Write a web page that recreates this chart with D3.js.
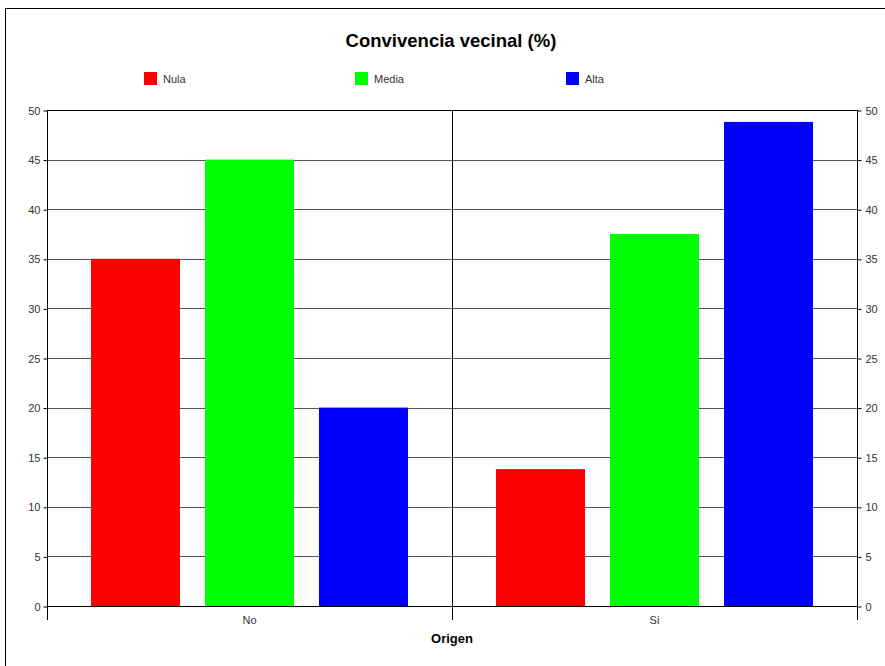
<!DOCTYPE html>
<html>
<head>
<meta charset="utf-8">
<script src="https://cdn.jsdelivr.net/npm/d3@7"></script>
<style>
  body { margin: 0; background: #fff; }
  svg { display: block; font-family: "Liberation Sans", Arial, sans-serif; }
</style>
</head>
<body>
<div id="chart"></div>
<script>
const categories = ["No", "Si"];
const seriesNames = ["Nula", "Media", "Alta"];
const seriesColors = ["#ff0000", "#00ff00", "#0000ff"];
const valuesNula = [35, 13.8];
const valuesMedia = [45, 37.5];
const valuesAlta = [20, 48.8];
const yTicks = [0, 5, 10, 15, 20, 25, 30, 35, 40, 45, 50];

const W = 885, H = 666;
const plot = { left: 47, right: 857, top: 110, bottom: 606 };

const svg = d3.select("#chart").append("svg")
  .attr("width", W).attr("height", H);

// outer frame
svg.append("rect")
  .attr("x", 5.5).attr("y", 8.5)
  .attr("width", W + 10).attr("height", H + 10)
  .attr("fill", "none").attr("stroke", "#000");

const x0 = d3.scaleBand()
  .domain(categories)
  .range([plot.left, plot.right])
  .paddingInner(0).paddingOuter(0);

const x1 = d3.scaleBand()
  .domain(seriesNames)
  .range([0, x0.bandwidth()])
  .paddingInner(0.219)
  .paddingOuter(0.386);

const y = d3.scaleLinear().domain([0, 50]).range([plot.bottom, plot.top]);

// gridlines
svg.append("g").selectAll("line")
  .data(yTicks.filter(t => t > 0))
  .join("line")
  .attr("x1", plot.left).attr("x2", plot.right)
  .attr("y1", d => Math.round(y(d)) + 0.5).attr("y2", d => Math.round(y(d)) + 0.5)
  .attr("stroke", d => d === 50 ? "#000" : "#555")
  .attr("stroke-width", 1);

// bars
const rows = categories.map((c, i) => ({
  cat: c,
  vals: [valuesNula[i], valuesMedia[i], valuesAlta[i]]
}));

const groups = svg.append("g").selectAll("g")
  .data(rows)
  .join("g")
  .attr("transform", d => `translate(${x0(d.cat)},0)`);

groups.selectAll("rect")
  .data(d => d.vals.map((v, j) => ({ name: seriesNames[j], v, color: seriesColors[j] })))
  .join("rect")
  .attr("x", d => x1(d.name))
  .attr("width", x1.bandwidth())
  .attr("y", d => y(d.v))
  .attr("height", d => y(0) - y(d.v))
  .attr("fill", d => d.color);

// vertical separators / category ticks
svg.append("g").selectAll("line")
  .data([plot.left, x0("Si"), plot.right])
  .join("line")
  .attr("x1", d => Math.round(d) + 0.5).attr("x2", d => Math.round(d) + 0.5)
  .attr("y1", plot.top).attr("y2", 620)
  .attr("stroke", "#000");

// left axis
const leftAxis = svg.append("g")
  .attr("transform", `translate(${plot.left + 0.5},0.5)`)
  .call(d3.axisLeft(y).tickValues(yTicks).tickSize(4).tickPadding(3).tickSizeOuter(0));
leftAxis.select(".domain").remove();

const rightAxis = svg.append("g")
  .attr("transform", `translate(${plot.right + 0.5},0.5)`)
  .call(d3.axisRight(y).tickValues(yTicks).tickSize(4).tickPadding(4).tickSizeOuter(0));
rightAxis.select(".domain").remove();

[leftAxis, rightAxis].forEach(a => {
  a.selectAll("text").attr("font-size", 11).attr("fill", "#333")
    .attr("font-family", "'Liberation Sans', Arial, sans-serif");
  a.selectAll("line").attr("stroke", "#000");
});

// baseline
svg.append("line")
  .attr("x1", plot.left).attr("x2", plot.right)
  .attr("y1", Math.round(y(0)) + 0.5).attr("y2", Math.round(y(0)) + 0.5)
  .attr("stroke", "#000");

// category labels
svg.append("g").selectAll("text")
  .data(categories)
  .join("text")
  .attr("x", d => x0(d) + x0.bandwidth() / 2)
  .attr("y", 624)
  .attr("text-anchor", "middle")
  .attr("font-size", 11)
  .attr("fill", "#333")
  .text(d => d);

// axis title
svg.append("text")
  .attr("x", 452).attr("y", 643)
  .attr("text-anchor", "middle")
  .attr("font-size", 13).attr("font-weight", "bold")
  .text("Origen");

// chart title
svg.append("text")
  .attr("x", 451).attr("y", 47)
  .attr("text-anchor", "middle")
  .attr("font-size", 18.5).attr("font-weight", "bold")
  .text("Convivencia vecinal (%)");

// legend
const legendX = [144, 355, 566];
const legend = svg.append("g").selectAll("g")
  .data(seriesNames)
  .join("g")
  .attr("transform", (d, i) => `translate(${legendX[i]},72)`);
legend.append("rect")
  .attr("width", 13).attr("height", 13)
  .attr("fill", (d, i) => seriesColors[i]);
legend.append("text")
  .attr("x", 19).attr("y", 10.5)
  .attr("font-size", 11)
  .attr("fill", "#333")
  .text(d => d);
</script>
</body>
</html>
